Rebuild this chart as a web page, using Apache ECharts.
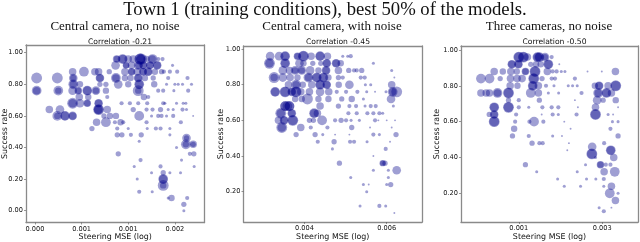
<!DOCTYPE html>
<html><head><meta charset="utf-8">
<style>html,body{margin:0;padding:0;background:#fff}#c{width:640px;height:242px}</style>
<script src="https://cdn.jsdelivr.net/npm/echarts@6/dist/echarts.min.js"></script>
</head><body><div id="c"></div>
<script>
const mainTitle = "Town 1 (training conditions), best 50% of the models.";
const panelTitles = ["Central camera, no noise","Central camera, with noise","Three cameras, no noise"];
const correlations = ["Correlation -0.21","Correlation -0.45","Correlation -0.50"];
const xName = "Steering MSE (log)";
const yName = "Success rate";
const xTicks1 = [0,700,1400,2100];
const xTicks2 = [4000,5976];
const xTicks3 = [1000,3008];
const yTicks1 = [0,0.2,0.4,0.6,0.8,1];
const yTicks2 = [0.2,0.4,0.6,0.8,1];
const yTicks3 = [0.2,0.4,0.6,0.8,1];
// each row: success rate, then pairs of [MSE in millionths, model weight]
const rows1 = [
[.96,1225,6,1315,8,1400,6,1475,6,1575,9,1600,9,1675,5,1765,8,1850,3,1915,3],
[.92,1210,7,1365,5,1450,6,1550,7,1625,6,1725,6,1835,7,2065,2],
[.88,565,6,735,8,900,6,955,6,1115,4,1350,6,1450,6,1535,6,1625,6,1700,7,1800,5,1900,4,1935,3,2025,3,2135,3],
[.84,25,9,335,9,575,7,975,7,1215,8,1350,5,1435,5,1550,7,1650,5,1775,4,2000,3,2290,3],
[.80,575,8,675,5,975,4,1065,4,1250,7,1400,5,1565,8,1790,5,1975,2,2100,2,2150,2,2215,2,2350,2],
[.76,25,8,350,8,565,7,650,6,785,8,915,7,1065,5,1550,9,1850,3,1925,3,2085,2,2300,3],
[.72,665,6,800,5,1085,3,1635,5,1700,3],
[.68,565,9,675,7,785,6,955,7,1300,3,1425,3,1550,3,1685,3,1925,3,1950,2,2125,2,2225,2,2265,2],
[.64,215,6,375,7,955,9,1085,6,1475,4,1675,3,1765,3,1885,4,2000,2,2075,2,2215,3,2275,2],
[.60,335,8,450,8,565,7,1035,4,1125,5,1215,5,1565,8,1750,2,1850,3,1900,3,1975,2,2075,3,2375,1],
[.56,925,6,1065,8,1200,3,1285,5,1325,3,1675,3,2190,3],
[.52,855,4,1235,3,1400,2,1685,2,1815,3,1885,3,2025,2],
[.48,1235,4,1305,4,1440,3,1595,4,2025,2],
[.46,2275,7,2275,4],
[.44,1565,2],
[.42,2265,8,2375,6,2265,5,2375,4],
[.40,2125,2],
[.36,1250,4,2325,3,2385,4],
[.32,1585,3,2200,2],
[.28,1490,2,1885,3,2390,2],
[.24,1750,2,1925,4,2025,2,2185,2],
[.20,1535,2,1925,8,1925,7],
[.16,1925,9,1925,5],
[.12,1565,3,1760,2],
[.08,2000,2,2050,5,2285,3],
[.04,2235,4],
[0,2235,2],
[.96,1580,9,1590,7,1320,7,1760,6,1230,5],
[.92,1370,5,1560,6,1630,6,1730,6,1835,6],
[.88,1620,6,1700,6,1450,5],
[.84,1550,6,975,6,1215,6,575,5],
[.80,1565,7,575,6],
[.76,25,6,350,5,785,7,915,5,1550,5,650,5],
[.68,565,7,955,6,785,5],
[.64,955,8,950,7],
[.60,450,7,565,6,335,5]
];
const rows2 = [
[.96,3176,7,3392,7,3536,8,3832,6,3976,9,4160,6,4376,8,4552,6,4920,2,5040,2,5112,3],
[.92,3160,9,3536,8,3880,7,3976,5,4200,4,4392,4,4536,7,4760,7,4872,5,5656,2],
[.88,3480,7,3640,6,3776,7,3936,7,4136,7,4336,5,4520,7,4816,6,5064,4,5192,3,5256,3,5376,4,6096,2],
[.84,3272,9,3480,7,3656,6,3832,5,4096,8,4296,8,4456,8,4576,5,4816,4,4920,3,5352,3,5448,3,6160,1],
[.80,3616,6,3800,8,3960,5,4176,6,4376,8,4536,7,4824,5,5080,7,5464,2,5592,2,6096,6],
[.76,3296,8,3536,9,3696,7,3800,9,3912,6,4120,6,4376,7,4584,6,4776,3,5000,3,5272,3,5496,2,5696,1,5960,2,6120,8,6216,9],
[.72,3776,5,3936,5,4072,9,4336,5,4576,5,4896,4,5136,5,5416,2,6080,7],
[.68,3536,8,3640,8,4376,6,4816,4,5080,3,5240,3,5456,2,5592,3,5712,3,6136,2],
[.64,3432,9,3696,7,4232,8,4312,6,5056,3,5256,3,5512,3,5656,3,5800,3,5880,2],
[.60,3376,6,3512,7,3720,9,4120,4,4216,4,4424,8,4736,3,4880,4,5000,3,5120,2,5320,2,5696,3,5776,1,5976,1,6176,1],
[.56,3456,9,3912,6,4152,3,4552,3,5136,4,5576,1,6096,1],
[.52,3800,4,4256,4,4440,2,4736,1,5080,1,5656,3,5800,2,6200,4],
[.48,4320,3,4712,4,5096,3,5192,3,5504,2,6056,1],
[.44,4672,2,5952,3],
[.40,5656,1],
[.36,4840,4,5880,5,5936,4,5880,4],
[.32,5656,2,6016,2,6216,7],
[.28,5112,2,6016,2],
[.24,5416,2,5544,1,5976,2,6072,4],
[.20,5496,2],
[.12,5336,2,5800,3,5952,2],
[.08,6160,1],
[.96,3976,8,3536,7,4376,7,3832,5],
[.92,3160,7,3536,7,4536,6,4760,6],
[.88,4520,6,3936,5,3776,5],
[.84,4296,7,4456,7,4096,6,3272,6],
[.80,4376,7,4536,6,3800,6],
[.76,3296,7,3536,8,3800,8,3696,6,6120,6],
[.68,3536,8,3640,8,3590,8],
[.64,3432,7,4232,7,3696,6],
[.60,3720,8,3512,6],
[.56,3456,7]
];
const rows3 = [
[.96,1000,9,1112,9,1208,6,1448,8,1496,8,1632,7,1792,3],
[.92,832,7,992,7,1288,4,1416,5,1528,5,1712,8,1976,1],
[.88,408,6,616,5,808,6,952,5,1160,6,1392,9,1688,6,1816,3,1912,3,2024,2,2112,2,2656,1,3000,1,3328,6],
[.84,88,8,296,8,552,4,800,6,960,6,1080,6,1360,9,1560,4,1792,3,1872,3,2352,3],
[.80,792,6,968,5,1336,8,1472,6,1656,3,1848,2,2192,2,2296,2,2408,2,2832,5,2936,7,3152,6,3336,9],
[.76,88,6,216,6,296,6,488,8,752,9,1288,8,1472,6,1712,2,1960,2,2512,3,2912,8,3112,8,3232,6],
[.72,752,4,1000,3,1496,4,2352,1,2888,7,3032,4,3336,5],
[.68,408,8,752,9,1000,3,1240,2,1568,3,1792,3,1952,3,2424,1,2848,6,3392,1],
[.64,288,4,408,7,936,3,1552,1,1816,3,1952,2,2392,3,2848,9,3152,2,3272,1],
[.60,408,9,912,3,1256,3,1368,8,1592,3,2096,1,3256,2,3392,2],
[.56,888,5,2248,1,3208,3],
[.52,848,4,1240,3,1816,2,2040,1,3392,4],
[.48,1320,4,1496,3,1576,3,2208,1,3056,3],
[.46,2768,7],
[.44,3216,8,2168,1,3216,7],
[.42,2760,9,2760,8],
[.40,2848,2,3288,6],
[.36,1160,4,2608,2,2968,6,3096,3,3208,3,2968,5],
[.32,1432,2,2408,2,3056,6,3312,8],
[.28,1936,2,2632,2,2856,2,3048,3],
[.24,2096,2,2488,2,3048,2,3232,6],
[.20,3192,8,3392,2],
[.16,3328,6],
[.12,2936,2,3232,1],
[.10,3048,3],
[.96,1000,8,1112,8,1448,7,1496,7,1632,5],
[.92,1712,7,992,6,832,6],
[.88,1392,8,1160,5],
[.84,1360,8],
[.80,1336,7,2936,6,3336,8],
[.76,752,8,488,6,2912,6,3112,7],
[.68,752,8,408,7],
[.64,2848,8,408,6],
[.60,408,8]
];
function points(rows){
  const out=[];
  rows.forEach(r=>{for(let i=1;i<r.length;i+=2) out.push([r[i],r[0],r[i+1]]);});
  return out;
}
const panels=[
 {rows:rows1,xt:xTicks1,yt:yTicks1,left:26,right:204.5,top:45,bottom:222.5,xmin:-135,xmax:2545,ymin:-0.075,ymax:1.049,cx:115,px:110,nameX:4.5},
 {rows:rows2,xt:xTicks2,yt:yTicks2,left:243.5,right:422,top:46,bottom:222,xmin:2536,xmax:6824,ymin:0.03,ymax:1.017,cx:333,px:327,nameX:220.7},
 {rows:rows3,xt:xTicks3,yt:yTicks3,left:461,right:638,top:46,bottom:222,xmin:-392,xmax:3872,ymin:0.04,ymax:1.022,cx:549.5,px:544,nameX:437}
];
const sans='"DejaVu Sans"', serif='"Liberation Serif"';
const grid=[],xAxis=[],yAxis=[],series=[];
const title=[{text:mainTitle,left:320,textAlign:'center',top:-4.5,textStyle:{fontFamily:serif,fontSize:18.7,fontWeight:'normal',color:'#111'}}];
panels.forEach((p,i)=>{
  title.push({text:panelTitles[i],left:p.px,textAlign:'center',top:15,textStyle:{fontFamily:serif,fontSize:13,fontWeight:'normal',color:'#111'}});
  title.push({text:correlations[i],left:p.cx,textAlign:'center',top:33,textStyle:{fontFamily:sans,fontSize:7.6,fontWeight:'normal',color:'#111'}});
  grid.push({left:p.left,top:p.top,width:p.right-p.left,height:p.bottom-p.top,containLabel:false,outerBoundsMode:'none'});
  const line={show:true,lineStyle:{color:'#8a8a8a',width:1.3}};
  xAxis.push({type:'value',gridIndex:i,min:p.xmin,max:p.xmax,position:'bottom',
    name:xName,nameLocation:'middle',nameGap:10.5,nameMoveOverlap:false,nameTextStyle:{fontFamily:sans,fontSize:7.9,color:'#111'},
    axisLine:{show:true,lineStyle:line.lineStyle,onZero:false},
    axisTick:{show:true,length:2,customValues:p.xt,lineStyle:{color:'#555',width:.6}},
    axisLabel:{customValues:p.xt,margin:3,fontFamily:sans,fontSize:6.6,color:'#111',showMinLabel:true,showMaxLabel:true,formatter:v=>(v/1e6).toFixed(3)},
    splitLine:{show:false}});
  yAxis.push({type:'value',gridIndex:i,min:p.ymin,max:p.ymax,position:'left',
    name:yName,nameLocation:'middle',nameRotate:90,nameGap:p.left-p.nameX-4,nameMoveOverlap:false,nameTextStyle:{fontFamily:sans,fontSize:7.9,color:'#111'},
    axisLine:{show:true,lineStyle:line.lineStyle,onZero:false},
    axisTick:{show:true,length:2,customValues:p.yt,lineStyle:{color:'#555',width:.6}},
    axisLabel:{customValues:p.yt,margin:3,fontFamily:sans,fontSize:6.6,color:'#111',formatter:v=>v.toFixed(2)},
    splitLine:{show:false}});
  xAxis.push({type:'value',gridIndex:i,min:p.xmin,max:p.xmax,position:'top',axisLine:{show:true,lineStyle:line.lineStyle,onZero:false},axisTick:{show:false},axisLabel:{show:false},splitLine:{show:false}});
  yAxis.push({type:'value',gridIndex:i,min:p.ymin,max:p.ymax,position:'right',axisLine:{show:true,lineStyle:line.lineStyle,onZero:false},axisTick:{show:false},axisLabel:{show:false},splitLine:{show:false}});
  series.push({type:'scatter',xAxisIndex:i*2,yAxisIndex:i*2,data:points(p.rows),
    symbolSize:d=>d[2]*1.12+0.8,
    itemStyle:{color:'rgba(0,0,139,0.47)',borderWidth:0},
    emphasis:{disabled:true},animation:false});
});
const chart=echarts.init(document.getElementById('c'),null,{renderer:'canvas'});
chart.setOption({animation:false,backgroundColor:'#fff',title,grid,xAxis,yAxis,series});
</script></body></html>
